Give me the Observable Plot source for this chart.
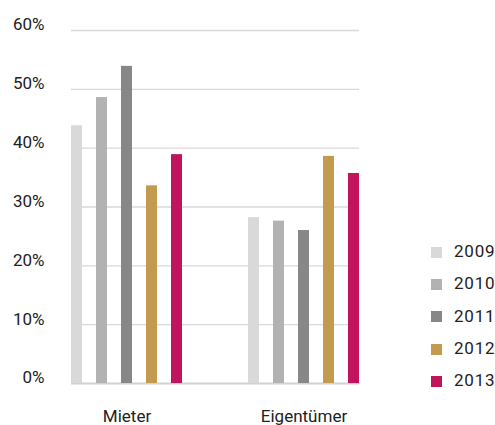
<!DOCTYPE html>
<html>
<head>
<meta charset="utf-8">
<script src="https://cdn.jsdelivr.net/npm/d3@7"></script>
<script src="https://cdn.jsdelivr.net/npm/@observablehq/plot@0.6"></script>
<style>
  html, body { margin: 0; padding: 0; background: #fff; }
  #chart { position: relative; width: 495px; height: 425px; font-family: Roboto, "DejaVu Sans", sans-serif; }
  #chart svg { display: block; position: absolute; left: 0; top: 0; overflow: visible; }
  .legend { position: absolute; left: 431px; top: 235px; color: #222; font-size: 17px; letter-spacing: 0.8px; }
  .legend .row { display: flex; align-items: center; height: 32.3px; }
  .legend .sw { width: 11px; height: 11px; margin-right: 12px; margin-top: 2px; }
</style>
</head>
<body>
<div id="chart"></div>
<script>
// Anteile je Gruppe und Jahr (in Prozent)
const groups = ["Mieter", "Eigentümer"];
const years = ["2009", "2010", "2011", "2012", "2013"];
const mieter = [43.8, 48.6, 53.9, 33.6, 38.9];
const eigentuemer = [28.2, 27.6, 26.0, 38.6, 35.7];
const yTicks = [0, 10, 20, 30, 40, 50, 60];
const colors = ["#d9d9d9", "#b2b2b2", "#878787", "#c49a50", "#c2145c"];

const rows = [
  ...years.map((year, i) => ({group: groups[0], year, value: mieter[i]})),
  ...years.map((year, i) => ({group: groups[1], year, value: eigentuemer[i]}))
];

// shared frame so both layers use the same y scale
const frame = {
  width: 495,
  height: 425,
  marginLeft: 71,
  marginRight: 136,
  marginTop: 30,
  marginBottom: 42,
  style: {fontFamily: "Roboto, 'DejaVu Sans', sans-serif", color: "#222", background: "transparent"}
};
const yScale = {domain: [0, 60], label: null};

// back layer: gridlines across the full width plus the percent axis
const grid = Plot.plot({
  ...frame,
  y: yScale,
  marks: [
    Plot.ruleY(yTicks.slice(1), {stroke: "#d9d9d9", strokeWidth: 1.4}),
    Plot.ruleY([0], {stroke: "#d2d2d2", strokeWidth: 1.8}),
    Plot.axisY({
      ticks: yTicks,
      tickFormat: d => d + "%",
      tickSize: 0,
      tickPadding: 27,
      dy: -5.5,
      fontSize: 17,
      fill: "#222",
      label: null
    })
  ]
});

// front layer: grouped bars per year
const bars = Plot.plot({
  ...frame,
  fx: {domain: groups, paddingInner: 0.373, paddingOuter: 0, label: null},
  x: {domain: years, paddingInner: 0.56, paddingOuter: 0, axis: null},
  y: {...yScale, axis: null},
  color: {domain: years, range: colors},
  marks: [
    Plot.barY(rows, {fx: "group", x: "year", y: "value", fill: "year"}),
    Plot.axisFx({
      anchor: "bottom",
      tickSize: 0,
      tickPadding: 26,
      fontSize: 17,
      fill: "#222",
      label: null,
      style: {letterSpacing: "1px"}
    })
  ]
});

const host = document.getElementById("chart");
host.appendChild(grid);
host.appendChild(bars);

// legend: one swatch per year
const legend = document.createElement("div");
legend.className = "legend";
years.forEach((year, i) => {
  const row = document.createElement("div");
  row.className = "row";
  const sw = document.createElement("span");
  sw.className = "sw";
  sw.style.background = colors[i];
  const label = document.createElement("span");
  label.textContent = year;
  row.appendChild(sw);
  row.appendChild(label);
  legend.appendChild(row);
});
host.appendChild(legend);
</script>
</body>
</html>
